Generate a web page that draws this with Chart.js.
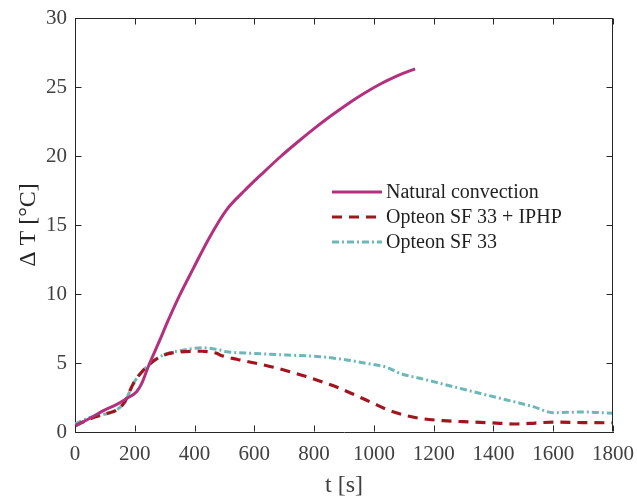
<!DOCTYPE html>
<html>
<head>
<meta charset="utf-8">
<script src="https://cdn.jsdelivr.net/npm/chart.js@4/dist/chart.umd.min.js"></script>
<style>
  html, body { margin: 0; padding: 0; background: #ffffff; }
  #wrap { width: 637px; height: 499px; }
</style>
</head>
<body>
<div id="wrap"><canvas id="c" width="637" height="499"></canvas></div>
<script>
// ---- Data ----
const seriesLabels = ["Natural convection", "Opteon SF 33 + IPHP", "Opteon SF 33"];

const naturalT = [0, 50, 95, 140, 173, 206, 223, 245, 284, 312, 350, 396, 450, 507, 570, 630, 690, 742, 800, 853, 910, 965, 1020, 1076, 1138];
const naturalDT = [0.43, 1.0, 1.55, 2.0, 2.43, 2.92, 3.5, 4.73, 6.67, 8.1, 9.9, 11.86, 14.1, 16.1, 17.55, 18.8, 20.0, 20.96, 21.98, 22.86, 23.74, 24.51, 25.2, 25.79, 26.32];

const iphpT = [0, 50, 100, 140, 167, 195, 240, 295, 351, 424, 474, 485, 541, 597, 664, 719, 775, 831, 881, 937, 993, 1048, 1110, 1154, 1232, 1330, 1422, 1478, 1540, 1600, 1700, 1800];
const iphpDT = [0.45, 0.95, 1.3, 1.6, 2.2, 3.5, 4.73, 5.55, 5.8, 5.85, 5.7, 5.58, 5.27, 5.02, 4.69, 4.37, 4.01, 3.6, 3.21, 2.68, 2.13, 1.59, 1.18, 0.99, 0.82, 0.72, 0.63, 0.58, 0.65, 0.72, 0.68, 0.67];

const sf33T = [0, 50, 139, 167, 195, 240, 295, 351, 429, 485, 507, 597, 708, 820, 909, 987, 1043, 1087, 1154, 1199, 1310, 1422, 1533, 1600, 1700, 1800];
const sf33DT = [0.58, 1.06, 1.6, 2.2, 3.5, 4.73, 5.58, 5.89, 6.1, 5.94, 5.82, 5.7, 5.58, 5.46, 5.22, 4.93, 4.69, 4.25, 3.89, 3.65, 3.04, 2.44, 1.84, 1.40, 1.45, 1.35];

const xTickStep = 200;
const yTickStep = 5;

// ---- Build chart ----
const toPts = (t, v) => t.map((x, i) => ({ x: x, y: v[i] }));
const FONT = "'Liberation Serif', 'Times New Roman', serif";

const boxAndLegend = {
  id: 'boxAndLegend',
  afterDraw(chart, args, opts) {
    const ctx = chart.ctx;
    const a = chart.chartArea;
    const xs = chart.scales.x, ys = chart.scales.y;
    ctx.save();
    ctx.strokeStyle = '#262626';
    ctx.lineWidth = 1;
    const L = Math.round(a.left) + 0.5, R = Math.round(a.right) - 0.5;
    const T = Math.round(a.top) + 0.5, B = Math.round(a.bottom) - 0.5;
    ctx.beginPath();
    ctx.moveTo(L, T); ctx.lineTo(R, T); ctx.lineTo(R, B);
    ctx.stroke();
    const tl = 6;
    ctx.beginPath();
    xs.ticks.forEach(tk => {
      const px = Math.round(xs.getPixelForValue(tk.value)) + 0.5;
      ctx.moveTo(px, B); ctx.lineTo(px, B - tl);
      ctx.moveTo(px, T); ctx.lineTo(px, T + tl);
    });
    ys.ticks.forEach(tk => {
      const py = Math.round(ys.getPixelForValue(tk.value)) + 0.5;
      ctx.moveTo(L, py); ctx.lineTo(L + tl, py);
      ctx.moveTo(R, py); ctx.lineTo(R - tl, py);
    });
    ctx.stroke();
    const lx1 = opts.x1, lx2 = opts.x2, tx = opts.tx;
    ctx.font = "20px " + FONT;
    ctx.textBaseline = 'middle';
    ctx.textAlign = 'left';
    chart.data.datasets.forEach((ds, i) => {
      const y = opts.y0 + i * opts.dy;
      ctx.save();
      ctx.strokeStyle = ds.borderColor;
      ctx.lineWidth = ds.borderWidth;
      ctx.setLineDash(ds.borderDash || []);
      ctx.beginPath();
      ctx.moveTo(lx1, y); ctx.lineTo(lx2, y);
      ctx.stroke();
      ctx.restore();
      ctx.fillStyle = '#1f1f1f';
      ctx.fillText(ds.label, tx, y + 1);
    });
    ctx.restore();
  }
};

new Chart(document.getElementById('c'), {
  type: 'line',
  data: {
    datasets: [
      {
        label: seriesLabels[0],
        data: toPts(naturalT, naturalDT),
        borderColor: '#B3307F',
        borderWidth: 3,
        pointRadius: 0,
        cubicInterpolationMode: 'monotone',
        fill: false
      },
      {
        label: seriesLabels[1],
        data: toPts(iphpT, iphpDT),
        borderColor: '#A0161F',
        borderWidth: 3.2,
        borderDash: [10, 7],
        pointRadius: 0,
        cubicInterpolationMode: 'monotone',
        fill: false
      },
      {
        label: seriesLabels[2],
        data: toPts(sf33T, sf33DT),
        borderColor: '#6DB8B7',
        borderWidth: 3,
        borderDash: [7, 3, 2, 3],
        pointRadius: 0,
        cubicInterpolationMode: 'monotone',
        fill: false
      }
    ]
  },
  options: {
    responsive: false,
    animation: false,
    events: [],
    layout: { padding: { top: 18, right: 24, left: 0, bottom: 0 } },
    plugins: {
      legend: { display: false },
      tooltip: { enabled: false },
      boxAndLegend: { x1: 332, x2: 382, tx: 386, y0: 192, dy: 25 }
    },
    scales: {
      x: {
        type: 'linear',
        min: 0, max: 1800,
        ticks: {
          stepSize: xTickStep,
          font: { family: FONT, size: 21 },
          color: '#404040',
          padding: 10,
          maxRotation: 0,
          autoSkip: false,
          callback: v => String(v)
        },
        grid: { display: false, drawTicks: false, tickLength: 0 },
        border: { display: true, color: '#262626', width: 1 },
        title: {
          display: true, text: 't [s]',
          font: { family: FONT, size: 24, lineHeight: 1 },
          color: '#404040',
          padding: { top: 0, bottom: 1 }
        },
        afterFit: s => { s.height = 67; s.paddingLeft = 0; s.paddingRight = 0; }
      },
      y: {
        type: 'linear',
        min: 0, max: 30,
        ticks: {
          stepSize: yTickStep,
          font: { family: FONT, size: 21 },
          color: '#404040',
          padding: 8,
          callback: v => String(v)
        },
        grid: { display: false, drawTicks: false, tickLength: 0 },
        border: { display: true, color: '#262626', width: 1 },
        title: {
          display: true, text: 'Δ T [°C]',
          font: { family: FONT, size: 24, lineHeight: 1 },
          color: '#262626',
          padding: { top: 17, bottom: 0 }
        },
        afterFit: s => { s.width = 75; s.paddingTop = 0; s.paddingBottom = 0; }
      }
    }
  },
  plugins: [boxAndLegend]
});
</script>
</body>
</html>
